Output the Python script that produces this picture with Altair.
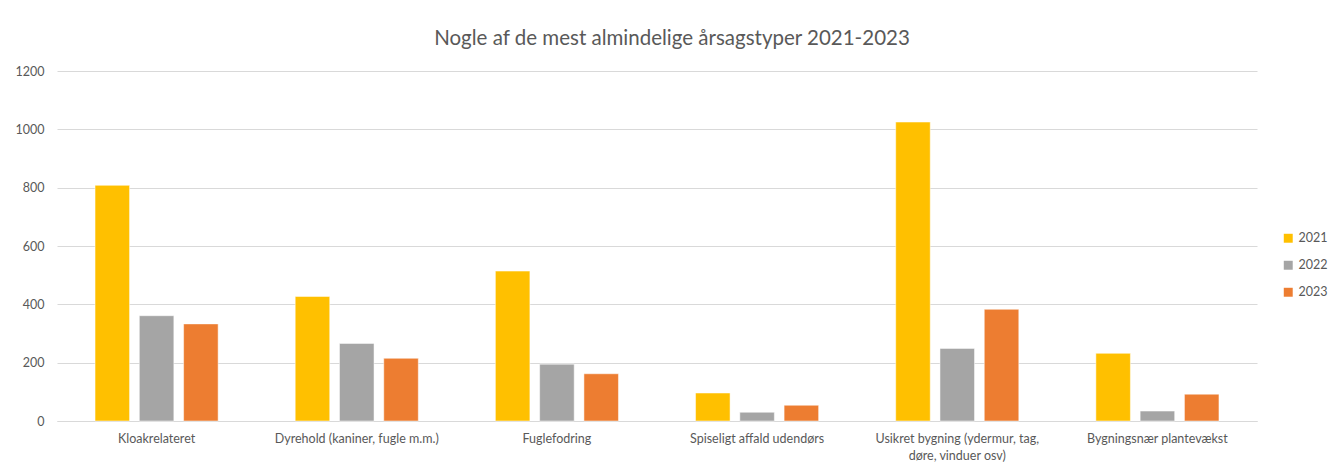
import altair as alt
import pandas as pd

categories = [
    "Kloakrelateret",
    "Dyrehold (kaniner, fugle m.m.)",
    "Fuglefodring",
    "Spiseligt affald udendørs",
    "Usikret bygning (ydermur, tag, døre, vinduer osv)",
    "Bygningsnær plantevækst",
]
years = ["2021", "2022", "2023"]
v2021 = [808, 427, 514, 96, 1025, 232]
v2022 = [361, 266, 195, 30, 249, 34]
v2023 = [333, 215, 162, 54, 383, 92]
colors = ["#FFC000", "#A5A5A5", "#ED7D31"]

rows = []
for i, c in enumerate(categories):
    for y, vals in zip(years, [v2021, v2022, v2023]):
        rows.append({"cat": c, "year": y, "value": vals[i]})
df = pd.DataFrame(rows)

FONT = "Lato"
TXT = "#595959"

label_expr = (
    "datum.value == 'Usikret bygning (ydermur, tag, døre, vinduer osv)' ? "
    "['Usikret bygning (ydermur, tag,', 'døre, vinduer osv)'] : datum.label"
)

chart = alt.Chart(df).mark_bar(stroke="white", strokeWidth=0.5).encode(
    x=alt.X("cat:N", sort=categories, title=None,
            scale=alt.Scale(paddingInner=0.385, paddingOuter=0.19),
            axis=alt.Axis(labelAngle=0, labelExpr=label_expr, labelFont=FONT,
                          labelFontSize=12.5, labelColor=TXT, ticks=False,
                          domainColor="#D9D9D9", labelPadding=11, labelLimit=400,
                          labelLineHeight=17)),
    xOffset=alt.XOffset("year:N", sort=years, scale=alt.Scale(paddingInner=0.22)),
    y=alt.Y("value:Q", title=None,
            scale=alt.Scale(domain=[0, 1200]),
            axis=alt.Axis(values=[0, 200, 400, 600, 800, 1000, 1200], format="d",
                          labelFont=FONT, labelFontSize=12.5, labelColor=TXT,
                          ticks=False, domain=False, gridColor="#D9D9D9",
                          labelPadding=13)),
    color=alt.Color("year:N", sort=years,
                    scale=alt.Scale(domain=years, range=colors),
                    legend=alt.Legend(title=None, orient="none", legendX=1225,
                                      legendY=161, symbolType="square",
                                      symbolSize=80, symbolStrokeWidth=0,
                                      labelFont=FONT, labelFontSize=12.5,
                                      labelColor=TXT, rowPadding=14,
                                      labelOffset=4)),
).properties(
    width=1200,
    height=350,
    title=alt.TitleParams("Nogle af de mest almindelige årsagstyper 2021-2023",
                          font=FONT, fontSize=20.5, fontWeight="normal",
                          color=TXT, anchor="middle", dx=15, offset=16),
    autosize=alt.AutoSizeParams(type="none"),
    padding={"left": 49, "top": 63, "right": 76, "bottom": 52},
).configure(background="white").configure_view(stroke=None)

chart.save("out.html", embed_options={"renderer": "svg", "actions": False})
